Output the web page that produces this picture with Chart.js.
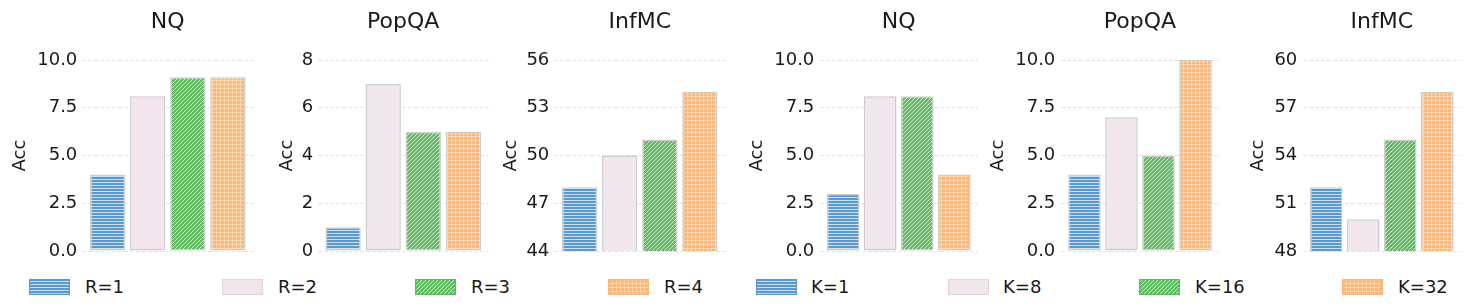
<!DOCTYPE html>
<html>
<head>
<meta charset="utf-8">
<script src="https://cdn.jsdelivr.net/npm/chart.js@4.4.1/dist/chart.umd.min.js"></script>
<style>
  html, body { margin: 0; padding: 0; background: #ffffff; }
  body { width: 1473px; height: 307px; position: relative; overflow: hidden; font-family: "DejaVu Sans", sans-serif; }
  canvas.panel { position: absolute; top: 0; }
  .lg-swatch { position: absolute; top: 279px; }
  .lg-text { position: absolute; top: 277px; font-size: 18px; line-height: 20px; color: #1a1a1a; white-space: nowrap; }
</style>
</head>
<body>
<script>
// ---------- data ----------
const panelTitles = ['NQ', 'PopQA', 'InfMC', 'NQ', 'PopQA', 'InfMC'];
const rLabels = ['R=1', 'R=2', 'R=3', 'R=4'];
const kLabels = ['K=1', 'K=8', 'K=16', 'K=32'];
const nqR    = [4.0, 8.1, 9.1, 9.1];
const popqaR = [1, 7, 5, 5];
const infmcR = [48, 50, 51, 54];
const nqK    = [3.0, 8.1, 8.1, 4.0];
const popqaK = [4.0, 7.0, 5.0, 10.0];
const infmcK = [52, 50, 55, 58];
const ticksTenth = ['0.0', '2.5', '5.0', '7.5', '10.0'];
const ticksPopR  = ['0', '2', '4', '6', '8'];
const ticksInfR  = ['44', '47', '50', '53', '56'];
const ticksInfK  = ['48', '51', '54', '57', '60'];
const yAxisTitle = 'Acc';

// ---------- styling / layout ----------
Chart.defaults.font.family = '"DejaVu Sans", sans-serif';
Chart.defaults.color = '#1a1a1a';

function makePattern(kind) {
  const c = document.createElement('canvas');
  const g = c.getContext('2d');
  c.width = 4; c.height = 4;
  if (kind === 'hline') {
    c.height = 3;
    g.fillStyle = '#5a99d0'; g.fillRect(0, 0, 4, 3);
    g.fillStyle = '#cfe2f3'; g.fillRect(0, 2, 4, 1);
  } else if (kind === 'dots') {
    g.fillStyle = '#f3e8ef'; g.fillRect(0, 0, 4, 4);
    g.fillStyle = '#ead9e4'; g.fillRect(0, 0, 1, 1); g.fillRect(2, 2, 1, 1);
  } else if (kind === 'diag') {
    g.fillStyle = '#62bb62'; g.fillRect(0, 0, 4, 4);
    g.fillStyle = '#cdebcd';
    for (let i = 0; i < 4; i++) g.fillRect(i, 3 - i, 1, 1);
  } else {
    g.fillStyle = '#ffb675'; g.fillRect(0, 0, 4, 4);
    g.fillStyle = '#ffd6ae'; g.fillRect(0, 0, 4, 1); g.fillRect(0, 0, 1, 4);
  }
  return g.createPattern(c, 'repeat');
}
const kinds = ['hline', 'dots', 'diag', 'grid'];
const edgeColors = ['#5a99d0', '#e6d2de', '#5cb85c', '#ffb675'];
const patterns = kinds.map(makePattern);

// per-panel geometry (y-title centre, plot left/right, tick gap)
const layouts = [
  { accX: 20.3,   plotL: 82,     plotR: 253.5,  tickGap: 4.7 },
  { accX: 287,    plotL: 317.5,  plotR: 489,    tickGap: 4.2 },
  { accX: 511,    plotL: 554,    plotR: 725.5,  tickGap: 4.7 },
  { accX: 757,    plotL: 819.5,  plotR: 978,    tickGap: 5.2 },
  { accX: 998.7,  plotL: 1060.8, plotR: 1219.2, tickGap: 5.5 },
  { accX: 1258.7, plotL: 1302.5, plotR: 1461,   tickGap: 5.2 }
];
const panelValues = [nqR, popqaR, infmcR, nqK, popqaK, infmcK];
const panelTicks  = [ticksTenth, ticksPopR, ticksInfR, ticksTenth, ticksTenth, ticksInfK];

const CANVAS_H = 275;
const PLOT_TOP = 60, PLOT_BOTTOM = 251;

panelValues.forEach((vals, p) => {
  const lay = layouts[p];
  const L = Math.round(lay.accX - 12);
  const width = Math.ceil(lay.plotR - L + 2);
  const padRight = (L + width) - lay.plotR;
  const yW = lay.plotL - L;
  const tickLabels = panelTicks[p];
  const tickVals = tickLabels.map(parseFloat);

  const cv = document.createElement('canvas');
  cv.className = 'panel';
  cv.width = width; cv.height = CANVAS_H;
  cv.style.left = L + 'px';
  cv.style.width = width + 'px'; cv.style.height = CANVAS_H + 'px';
  document.body.appendChild(cv);

  new Chart(cv.getContext('2d'), {
    type: 'bar',
    data: {
      datasets: [{
        label: panelTitles[p],
        data: vals.map((v, i) => ({ x: i, y: v })),
        backgroundColor: patterns,
        borderColor: '#cccccc',
        borderWidth: 1.5,
        borderSkipped: false,
        categoryPercentage: 1.0,
        barPercentage: 0.88
      }]
    },
    options: {
      responsive: false,
      animation: false,
      devicePixelRatio: 1,
      layout: { padding: { left: 0, right: padRight, top: 0, bottom: CANVAS_H - PLOT_BOTTOM } },
      plugins: {
        legend: { display: false },
        tooltip: { enabled: false },
        title: {
          display: true,
          fullSize: false,
          text: panelTitles[p],
          color: '#1a1a1a',
          font: { size: 22, weight: 'normal', lineHeight: 1.2 },
          padding: { top: 9.5, bottom: PLOT_TOP - 9.5 - 26.4 }
        }
      },
      scales: {
        x: {
          type: 'linear',
          display: false,
          min: -0.64,
          max: 3.64,
          offset: false
        },
        y: {
          min: tickVals[0],
          max: tickVals[tickVals.length - 1],
          afterBuildTicks: (scale) => { scale.ticks = tickVals.map(v => ({ value: v })); },
          afterFit: (scale) => { scale.width = yW; },
          ticks: {
            autoSkip: false,
            padding: lay.tickGap,
            color: '#1a1a1a',
            font: { size: 18 },
            callback: (value, index) => tickLabels[index]
          },
          grid: { color: '#dddddd', lineWidth: 0.8, drawTicks: false },
          border: { display: false, dash: [4, 2] },
          title: {
            display: true,
            text: yAxisTitle,
            color: '#1a1a1a',
            font: { size: 18, lineHeight: 1.2 },
            padding: { top: lay.accX - L - 10.8, bottom: 0 }
          }
        }
      }
    }
  });
});

// ---------- legends ----------
const legendSpecs = [
  { labels: rLabels, swatchX: [29, 222, 415, 608],     textX: [85, 278, 471, 664] },
  { labels: kLabels, swatchX: [756, 947.5, 1139, 1342], textX: [811, 1003, 1195, 1398] }
];
legendSpecs.forEach(spec => {
  spec.labels.forEach((lab, i) => {
    const sw = document.createElement('canvas');
    sw.className = 'lg-swatch';
    sw.width = 41; sw.height = 16;
    sw.style.left = spec.swatchX[i] + 'px';
    const g = sw.getContext('2d');
    g.fillStyle = patterns[i];
    g.fillRect(0.5, 0.5, 40, 15);
    g.strokeStyle = edgeColors[i];
    g.lineWidth = 1.2;
    g.strokeRect(0.6, 0.6, 39.8, 14.8);
    document.body.appendChild(sw);
    const t = document.createElement('div');
    t.className = 'lg-text';
    t.style.left = spec.textX[i] + 'px';
    t.textContent = lab;
    document.body.appendChild(t);
  });
});
</script>
</body>
</html>
